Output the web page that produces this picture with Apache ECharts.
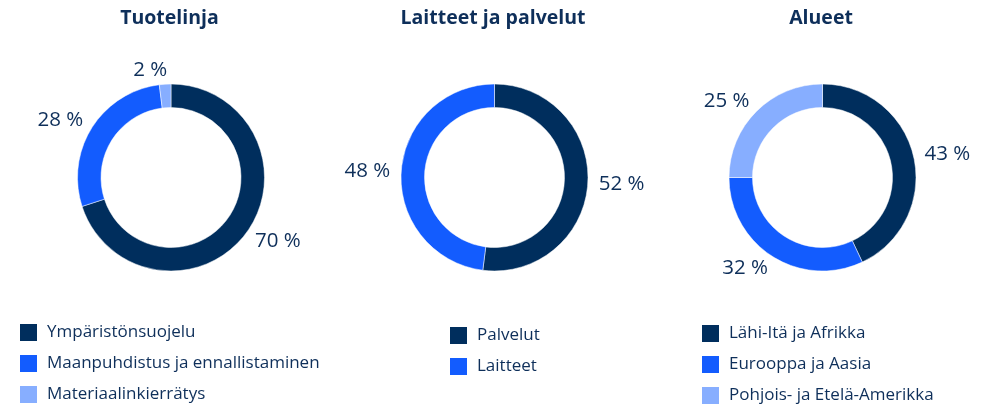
<!DOCTYPE html>
<html><head><meta charset="utf-8">
<script src="https://cdn.jsdelivr.net/npm/echarts@6/dist/echarts.min.js"></script>
<style>html,body{margin:0;padding:0;background:#fff}#c{width:999px;height:409px}</style>
</head><body><div id="c"></div>
<script>
const titles = ['Tuotelinja', 'Laitteet ja palvelut', 'Alueet'];
const cats1 = ['Ympäristönsuojelu', 'Maanpuhdistus ja ennallistaminen', 'Materiaalinkierrätys'];
const vals1 = [70, 28, 2];
const cats2 = ['Palvelut', 'Laitteet'];
const vals2 = [52, 48];
const cats3 = ['Lähi-Itä ja Afrikka', 'Eurooppa ja Aasia', 'Pohjois- ja Etelä-Amerikka'];
const vals3 = [43, 32, 25];
const colors = ['#002e5d', '#135cfe', '#87aeff'];

const FONT = 'Open Sans';
const TXT = '#0e2f5a';
const centersX = [171, 494.5, 822.5];
const centerY = 177.5;
const legendPos = [{left: 18, top: 322}, {left: 448, top: 325}, {left: 700, top: 323}];
const groups = [[cats1, vals1], [cats2, vals2], [cats3, vals3]];

const option = {
  animation: false,
  title: titles.map((t, i) => ({
    text: t, left: centersX[i] - 1.5, top: 8, textAlign: 'center', padding: 0,
    textStyle: {fontFamily: FONT, fontWeight: 'bold', fontSize: 19.5, color: TXT}
  })),
  legend: groups.map((g, i) => ({
    data: g[0], orient: 'vertical', left: legendPos[i].left, top: legendPos[i].top,
    width: 300, height: 120,
    icon: 'rect', itemWidth: 19, itemHeight: 19, itemGap: 10, selectedMode: false,
    padding: 0,
    textStyle: {fontFamily: FONT, fontSize: 17, lineHeight: 19, color: TXT, padding: [0, 0, 0, 4]}
  })),
  series: groups.map((g, i) => ({
    type: 'pie', center: [centersX[i], centerY], radius: [70, 93.5],
    startAngle: 90, clockwise: true, avoidLabelOverlap: false,
    label: {show: true, position: 'outside', formatter: '{c} %', distanceToLabelLine: -3,
      fontFamily: FONT, fontSize: 20.5, color: TXT},
    labelLine: {show: false, length: 14, length2: 0},
    emphasis: {disabled: true},
    data: g[0].map((n, k) => ({name: n, value: g[1][k], itemStyle: {color: colors[k], borderColor: '#fff', borderWidth: 0.5}}))
  }))
};
const chart = echarts.init(document.getElementById('c'));
chart.setOption(option);
</script></body></html>
